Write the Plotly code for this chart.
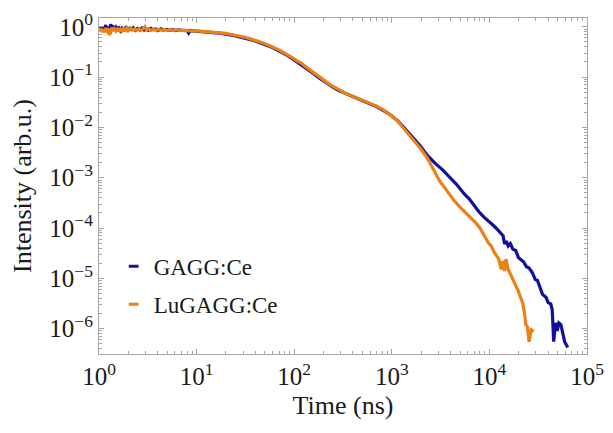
import plotly.graph_objects as go

# Scintillation decay curves (normalised intensity vs. time)
gagg_time_ns = [
    1.0, 1.04, 1.07, 1.1, 1.13, 1.17, 1.2, 1.24, 1.28, 1.32, 1.36, 1.4, 1.45,
    1.5, 1.55, 1.6, 1.66, 1.72, 1.8, 1.88, 1.96, 2.05, 2.15, 2.25, 2.36, 2.48,
    2.6, 2.75, 2.9, 3.05, 3.2, 3.4, 3.6, 3.8, 4.0, 4.3, 4.6, 4.9, 5.3, 5.7,
    6.1, 6.6, 7.1, 7.6, 8.0, 8.3, 8.6, 9.2, 10, 11, 12, 13, 14, 15.5, 17,
    18.5, 20, 22, 25, 28, 31, 35, 40, 45, 52, 60, 68, 76, 85, 95, 105, 118,
    130, 145, 160, 180, 200, 225, 250, 280, 320, 360, 420, 480, 550, 620,
    700, 800, 900, 1000, 1150, 1340, 1600, 1950, 2300, 2800, 3300, 3900,
    4600, 5500, 6200, 6900, 7800, 8800, 10000, 11000, 12200, 13200, 13800,
    14300, 14900, 15600, 16400, 17400, 18600, 19800, 21000, 22500, 24000,
    25500, 27500, 29500, 31000, 33000, 35000, 38000, 40000, 42500, 44000,
    45600, 47500, 49500, 51500, 54000, 56000, 59000, 63500,
]
gagg_intensity = [
    0.86, 0.97, 0.84, 1.02, 0.9, 1.08, 0.88, 0.99, 0.85, 1.12, 0.93, 1.04, 0.87,
    0.98, 0.9, 0.95, 0.84, 0.94, 0.87, 0.96, 0.86, 0.93, 0.88, 0.95, 0.85, 0.92,
    0.87, 0.94, 0.86, 0.91, 0.85, 0.93, 0.87, 0.9, 0.84, 0.91, 0.86, 0.89, 0.85,
    0.88, 0.84, 0.87, 0.85, 0.86, 0.84, 0.75, 0.84, 0.83, 0.82, 0.81, 0.8, 0.78,
    0.79, 0.76, 0.75, 0.73, 0.72, 0.69, 0.66, 0.63, 0.6, 0.56, 0.52, 0.48, 0.43,
    0.385, 0.34, 0.305, 0.27, 0.235, 0.205, 0.18, 0.155, 0.132, 0.115, 0.096,
    0.083, 0.071, 0.063, 0.055, 0.049, 0.044, 0.039, 0.035, 0.031, 0.0285,
    0.026, 0.0225, 0.0195, 0.0168, 0.0135, 0.0098, 0.0068, 0.0043, 0.0028,
    0.0019, 0.00145, 0.00105, 0.00074, 0.00048, 0.00038, 0.00029, 0.00021,
    0.000165, 0.000135, 0.000112, 0.000092, 0.000078, 0.00007, 0.000048,
    0.000055, 0.000044, 0.000049, 0.000038, 0.000036, 0.000026, 0.000024,
    0.000021, 0.000017, 0.000016, 0.000013, 0.0000095, 0.0000092, 0.0000068,
    0.0000048, 0.0000042, 0.0000033, 0.0000031, 0.0000024, 0.00000055,
    0.0000013, 0.0000009, 0.0000013, 0.0000012, 0.0000008, 0.00000055,
    0.00000042,
]

lugagg_time_ns = [
    1.0, 1.03, 1.06, 1.09, 1.12, 1.16, 1.2, 1.23, 1.27, 1.31, 1.35, 1.4, 1.44,
    1.49, 1.54, 1.6, 1.65, 1.71, 1.78, 1.85, 1.93, 2.0, 2.1, 2.2, 2.3, 2.42,
    2.55, 2.68, 2.82, 2.95, 3.05, 3.2, 3.4, 3.6, 3.85, 4.1, 4.4, 4.7, 5.0,
    5.4, 5.8, 6.3, 6.8, 7.4, 8.0, 8.7, 9.4, 10, 11, 12, 13, 14, 15.5, 17,
    18.5, 20, 22, 25, 28, 31, 35, 40, 45, 52, 60, 68, 76, 85, 95, 105, 118,
    130, 145, 160, 180, 200, 225, 250, 280, 320, 360, 420, 480, 550, 620,
    700, 800, 900, 1000, 1150, 1340, 1600, 1950, 2300, 2700, 3100, 3600,
    4300, 5000, 5600, 6150, 6700, 7300, 8000, 8700, 9300, 9800, 10500, 11200,
    11700, 12500, 13200, 13800, 14300, 14800, 15600, 16500, 17600, 18600,
    19800, 21000, 22000, 23000, 23600, 24500, 25500, 26800, 28500,
]
lugagg_intensity = [
    0.8, 0.93, 0.79, 0.9, 0.78, 0.88, 0.82, 0.94, 0.7, 0.74, 0.96, 0.83, 0.91,
    0.82, 0.9, 0.84, 0.93, 0.82, 0.92, 0.85, 0.95, 0.84, 0.93, 0.86, 0.91, 0.85,
    0.9, 0.84, 0.92, 1.0, 0.86, 0.91, 0.85, 0.9, 0.84, 0.89, 0.85, 0.88, 0.84,
    0.87, 0.85, 0.87, 0.84, 0.86, 0.84, 0.85, 0.83, 0.83, 0.82, 0.81, 0.8, 0.79,
    0.77, 0.76, 0.75, 0.74, 0.71, 0.68, 0.65, 0.62, 0.58, 0.54, 0.5, 0.45, 0.4,
    0.355, 0.315, 0.28, 0.245, 0.215, 0.19, 0.163, 0.139, 0.12, 0.1, 0.087,
    0.074, 0.065, 0.057, 0.05, 0.045, 0.04, 0.036, 0.032, 0.029, 0.0265,
    0.023, 0.0198, 0.0168, 0.0132, 0.0093, 0.0062, 0.0039, 0.0025, 0.0014,
    0.00085, 0.00058, 0.00036, 0.00026, 0.00021, 0.000175, 0.000145, 0.000125,
    0.0001, 0.000072, 0.00006, 0.00005, 0.000043, 0.000033, 0.000029,
    0.000024, 0.000015, 0.000022, 0.000014, 0.000024, 0.000015, 0.000012,
    0.0000095, 0.0000072, 0.0000056, 0.000004, 0.0000032, 0.0000019,
    0.0000012, 0.0000011, 0.00000055, 0.00000095, 0.00000088,
]

series_names = ["GAGG:Ce", "LuGAGG:Ce"]
series_colors = ["#10109c", "#ec8116"]

x_tick_exponents = [0, 1, 2, 3, 4, 5]
y_tick_exponents = [0, -1, -2, -3, -4, -5, -6]

FONT = "Liberation Serif"
FRAME = "#a6a6a6"
TEXT = "#1a1a1a"


def power_label(e):
    s = str(e).replace("-", "\u2212")
    return f"10<sup>{s}</sup>"


def minor_positions(lo, hi):
    vals = []
    for e in range(lo, hi):
        for k in range(2, 10):
            vals.append(k * 10.0 ** e)
    return vals


fig = go.Figure()

for t, y, name, col in [
    (gagg_time_ns, gagg_intensity, series_names[0], series_colors[0]),
    (lugagg_time_ns, lugagg_intensity, series_names[1], series_colors[1]),
]:
    fig.add_trace(go.Scatter(
        x=t, y=y, mode="lines", name=name, showlegend=False,
        line=dict(color=col, width=3.2),
    ))

# legend keys drawn as short dashes
for i, (name, col) in enumerate(zip(series_names, series_colors)):
    fig.add_trace(go.Scatter(
        x=[None], y=[None], mode="markers", name=name,
        legendgroup=f"g{i}",
        marker=dict(symbol="line-ew", size=7, color=col,
                    line=dict(width=3, color=col)),
    ))

axis_common = dict(
    type="log",
    showgrid=False,
    zeroline=False,
    showline=True,
    linecolor=FRAME,
    linewidth=1.2,
    mirror="ticks",
    ticks="inside",
    ticklen=5,
    tickwidth=1,
    tickcolor=FRAME,
    tickmode="array",
    tickfont=dict(family=FONT, size=25, color=TEXT),
)

fig.update_xaxes(
    **axis_common,
    range=[0, 5],
    tickvals=[10.0 ** e for e in x_tick_exponents],
    ticktext=[power_label(e) for e in x_tick_exponents],
    minor=dict(ticks="inside", ticklen=3, tickcolor=FRAME, tickwidth=1,
               tickmode="array", tickvals=minor_positions(0, 5), showgrid=False),
    title=dict(text="Time (ns)", font=dict(family=FONT, size=26, color=TEXT),
               standoff=6),
)
fig.update_yaxes(
    **axis_common,
    range=[-6.504, 0.174],
    tickvals=[10.0 ** e for e in y_tick_exponents],
    ticktext=[power_label(e) for e in y_tick_exponents],
    minor=dict(ticks="inside", ticklen=3, tickcolor=FRAME, tickwidth=1,
               tickmode="array", tickvals=minor_positions(-7, 0), showgrid=False),
    title=dict(text="Intensity (arb.u.)", font=dict(family=FONT, size=26, color=TEXT),
               standoff=10),
)

fig.update_layout(
    width=613, height=433,
    margin=dict(l=99, r=20, t=9, b=79),
    paper_bgcolor="white",
    plot_bgcolor="white",
    legend=dict(
        x=0.03, y=0.325, xanchor="left", yanchor="top",
        bgcolor="rgba(0,0,0,0)",
        font=dict(family=FONT, size=23, color=TEXT),
        traceorder="grouped", tracegroupgap=5, itemwidth=30,
    ),
)

fig.write_html("out.html")
